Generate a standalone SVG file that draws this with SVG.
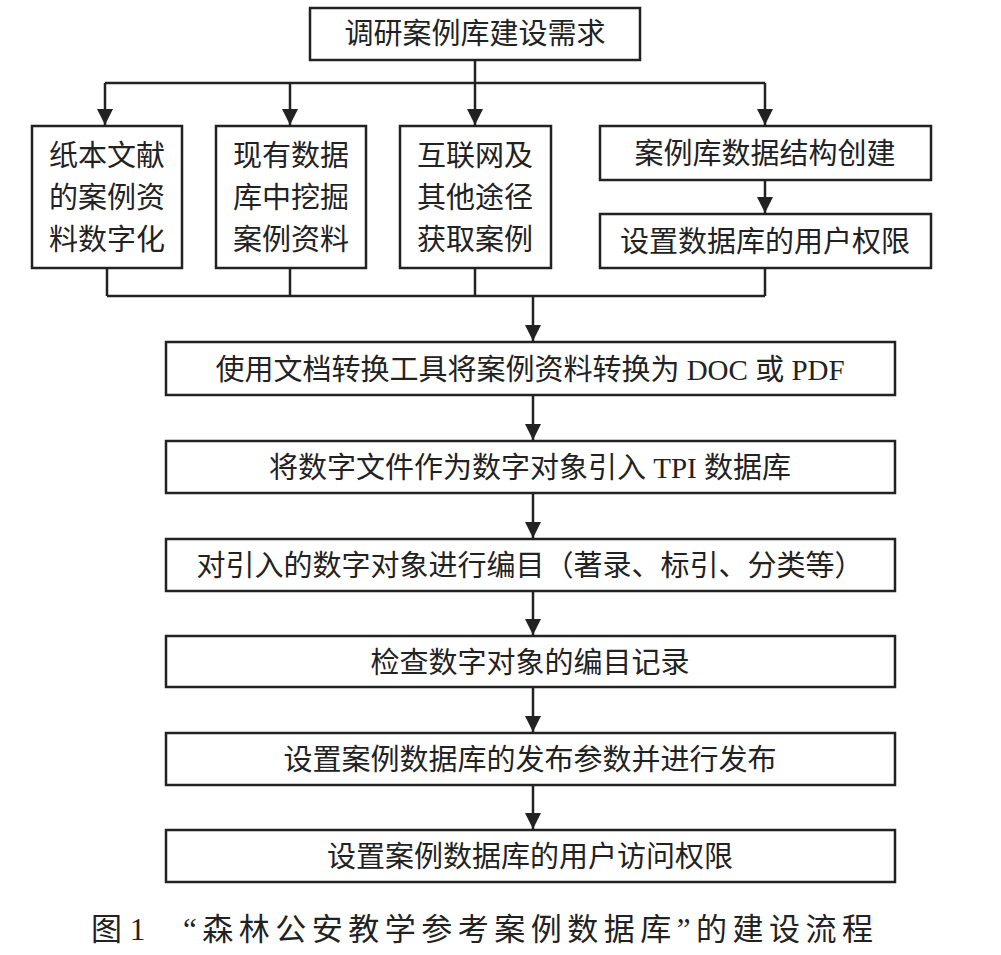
<svg xmlns="http://www.w3.org/2000/svg" width="1001" height="955" viewBox="0 0 1001 955">
<style>
.b{fill:#fff;stroke:#222;stroke-width:2.5}
.t{font-family:"Liberation Serif","Noto Sans CJK SC",serif;font-size:29px;fill:#222;text-anchor:middle}
.c{stroke:#222;stroke-width:2.5;fill:none}
</style>
<defs><marker id="m" viewBox="0 0 10 10" refX="10" refY="5" markerWidth="6.5" markerHeight="6.5" orient="auto"><path d="M0,0L10,5L0,10z" fill="#222"/></marker></defs>
<rect width="1001" height="955" fill="#fff"/>
<g id="connectors">
<path class="c" d="M475,60V83M105,83H765"/>
<path class="c" marker-end="url(#m)" d="M105,83V125"/>
<path class="c" marker-end="url(#m)" d="M290,83V125"/>
<path class="c" marker-end="url(#m)" d="M475,83V125"/>
<path class="c" marker-end="url(#m)" d="M765,83V125"/>
<path class="c" marker-end="url(#m)" d="M765,180V213"/>
<path class="c" d="M107,268V296M290,268V296M475,268V296M765,268V296M107,296H765"/>
<path class="c" marker-end="url(#m)" d="M533,296V341"/>
<path class="c" marker-end="url(#m)" d="M533,395V440"/>
<path class="c" marker-end="url(#m)" d="M533,493V538"/>
<path class="c" marker-end="url(#m)" d="M533,591V635"/>
<path class="c" marker-end="url(#m)" d="M533,687V732"/>
<path class="c" marker-end="url(#m)" d="M533,785V829"/>
</g>
<g id="n0"><rect class="b" x="310" y="8" width="330" height="52"/><text class="t" x="475" y="44">调研案例库建设需求</text></g>
<g id="n1"><rect class="b" x="32" y="126" width="150" height="142"/><text class="t" x="107" y="166">纸本文献</text><text class="t" x="107" y="208">的案例资</text><text class="t" x="107" y="250">料数字化</text></g>
<g id="n2"><rect class="b" x="216" y="126" width="150" height="142"/><text class="t" x="291" y="166">现有数据</text><text class="t" x="291" y="208">库中挖掘</text><text class="t" x="291" y="250">案例资料</text></g>
<g id="n3"><rect class="b" x="400" y="126" width="151" height="142"/><text class="t" x="475" y="166">互联网及</text><text class="t" x="475" y="208">其他途径</text><text class="t" x="475" y="250">获取案例</text></g>
<g id="n4"><rect class="b" x="600" y="126" width="331" height="54"/><text class="t" x="765" y="164">案例库数据结构创建</text></g>
<g id="n5"><rect class="b" x="600" y="214" width="331" height="54"/><text class="t" x="765" y="252">设置数据库的用户权限</text></g>
<g id="n6"><rect class="b" x="166" y="342" width="729" height="53"/><text class="t" x="530" y="380">使用文档转换工具将案例资料转换为 DOC 或 PDF</text></g>
<g id="n7"><rect class="b" x="166" y="441" width="729" height="52"/><text class="t" x="530" y="478">将数字文件作为数字对象引入 TPI 数据库</text></g>
<g id="n8"><rect class="b" x="166" y="539" width="729" height="52"/><text class="t" x="530" y="576">对引入的数字对象进行编目（著录、标引、分类等）</text></g>
<g id="n9"><rect class="b" x="166" y="636" width="729" height="51"/><text class="t" x="530" y="673">检查数字对象的编目记录</text></g>
<g id="n10"><rect class="b" x="166" y="733" width="729" height="52"/><text class="t" x="530" y="770">设置案例数据库的发布参数并进行发布</text></g>
<g id="n11"><rect class="b" x="166" y="830" width="729" height="52"/><text class="t" x="530" y="867">设置案例数据库的用户访问权限</text></g>
<text class="t" x="91" y="940" style="text-anchor:start;font-size:31px">图 1</text>
<text class="t" x="183" y="940" style="text-anchor:start;font-size:31px" textLength="690" lengthAdjust="spacing">“森林公安教学参考案例数据库”的建设流程</text>
</svg>
